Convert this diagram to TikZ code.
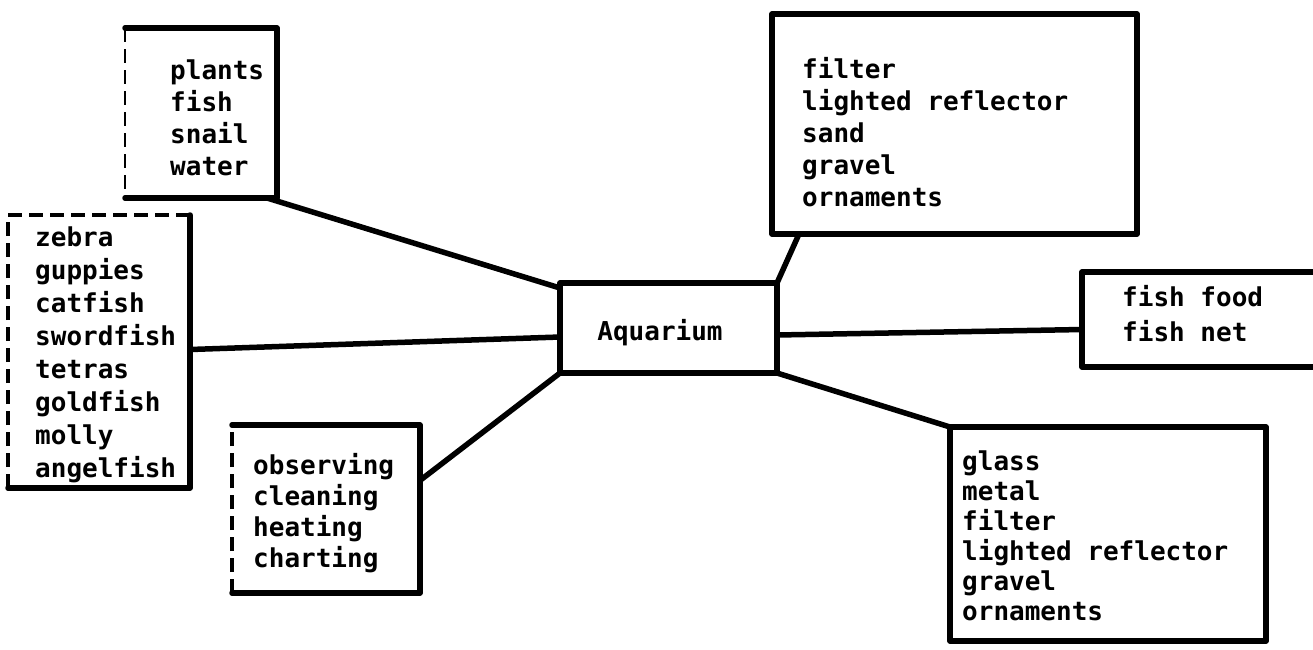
\documentclass[tikz,border=0pt]{standalone}
\usepackage{fontspec}
\newfontfamily\monof{DejaVu Sans Mono}
\usetikzlibrary{calc}
\begin{document}
\begin{tikzpicture}[x=1pt,y=-1pt,
  box/.style={draw=none, rectangle, inner sep=0pt, outer sep=0pt, anchor=north west},
  edge/.style={line width=5.5pt, line cap=round, line join=round},
  broken/.style={line width=3.5pt, dash pattern=on 14pt off 7pt},
  txt/.style={anchor=north west, align=left, inner sep=0pt, font=\monof\bfseries\fontsize{26}{#1}\selectfont},
  link/.style={line width=5.5pt, line cap=round}]
\clip (0,0) rectangle (1313,649);
\fill[white] (0,0) rectangle (1313,649);
% boxes
\node[box, minimum width=152pt, minimum height=170pt] (plants) at (125,28) {};
\node[box, minimum width=182pt, minimum height=273pt] (fishes) at (8,215) {};
\node[box, minimum width=188pt, minimum height=168pt] (obs) at (232,425) {};
\node[box, minimum width=217pt, minimum height=90pt] (aq) at (560,283) {};
\node[box, minimum width=365pt, minimum height=220pt] (filt) at (772,14) {};
\node[box, minimum width=260pt, minimum height=95pt] (food) at (1082,272) {};
\node[box, minimum width=316pt, minimum height=214pt] (glass) at (950,427) {};
% box outlines
\draw[edge] (plants.south west) -- (plants.south east) -- (plants.north east) -- (plants.north west);
\draw[broken, line width=2pt] (plants.north west) -- (plants.south west);
\draw[edge] (fishes.north east) -- (fishes.south east) -- (fishes.south west);
\draw[broken] (fishes.south west) -- (fishes.north west) -- (fishes.north east);
\draw[edge] (obs.north west) -- (obs.north east) -- (obs.south east) -- (obs.south west);
\draw[broken] (obs.south west) -- (obs.north west);
\draw[edge] (aq.north west) rectangle (aq.south east);
\draw[edge] (filt.north west) rectangle (filt.south east);
\draw[edge] (food.north east) -- (food.north west) -- (food.south west) -- (food.south east);
\draw[edge] (glass.north west) rectangle (glass.south east);
% texts
\node[txt=32] (tplants) at (170,58) {\rule{0pt}{21pt}plants\\fish\\snail\\water};
\node[txt=33] (tfishes) at (35,225) {\rule{0pt}{21pt}zebra\\guppies\\catfish\\swordfish\\tetras\\goldfish\\molly\\angelfish};
\node[txt=31] (tobs) at (253,453) {\rule{0pt}{21pt}observing\\cleaning\\heating\\charting};
\node[anchor=center, inner sep=0pt, font=\monof\bfseries\fontsize{26}{32}\selectfont] (taq) at (660,333) {Aquarium};
\node[txt=32] (tfilt) at (802,57) {\rule{0pt}{21pt}filter\\lighted reflector\\sand\\gravel\\ornaments};
\node[txt=35] (tfood) at (1122,285) {\rule{0pt}{21pt}fish food\\fish net};
\node[txt=30] (tglass) at (962,449) {\rule{0pt}{21pt}glass\\metal\\filter\\lighted reflector\\gravel\\ornaments};
% connectors
\draw[link] ($(plants.south east)+(-10,0)$) -- ($(aq.north west)+(0,5)$);
\draw[link] ($(fishes.east)+(0,-2)$) -- ($(aq.west)+(0,9)$);
\draw[link] ($(obs.north east)!0.33!(obs.south east)$) -- (aq.south west);
\draw[link] (aq.north east) -- ($(filt.south west)+(27,0)$);
\draw[link] ($(aq.east)+(0,7)$) -- ($(food.west)+(0,10)$);
\draw[link] (aq.south east) -- (glass.north west);
\end{tikzpicture}
\end{document}
